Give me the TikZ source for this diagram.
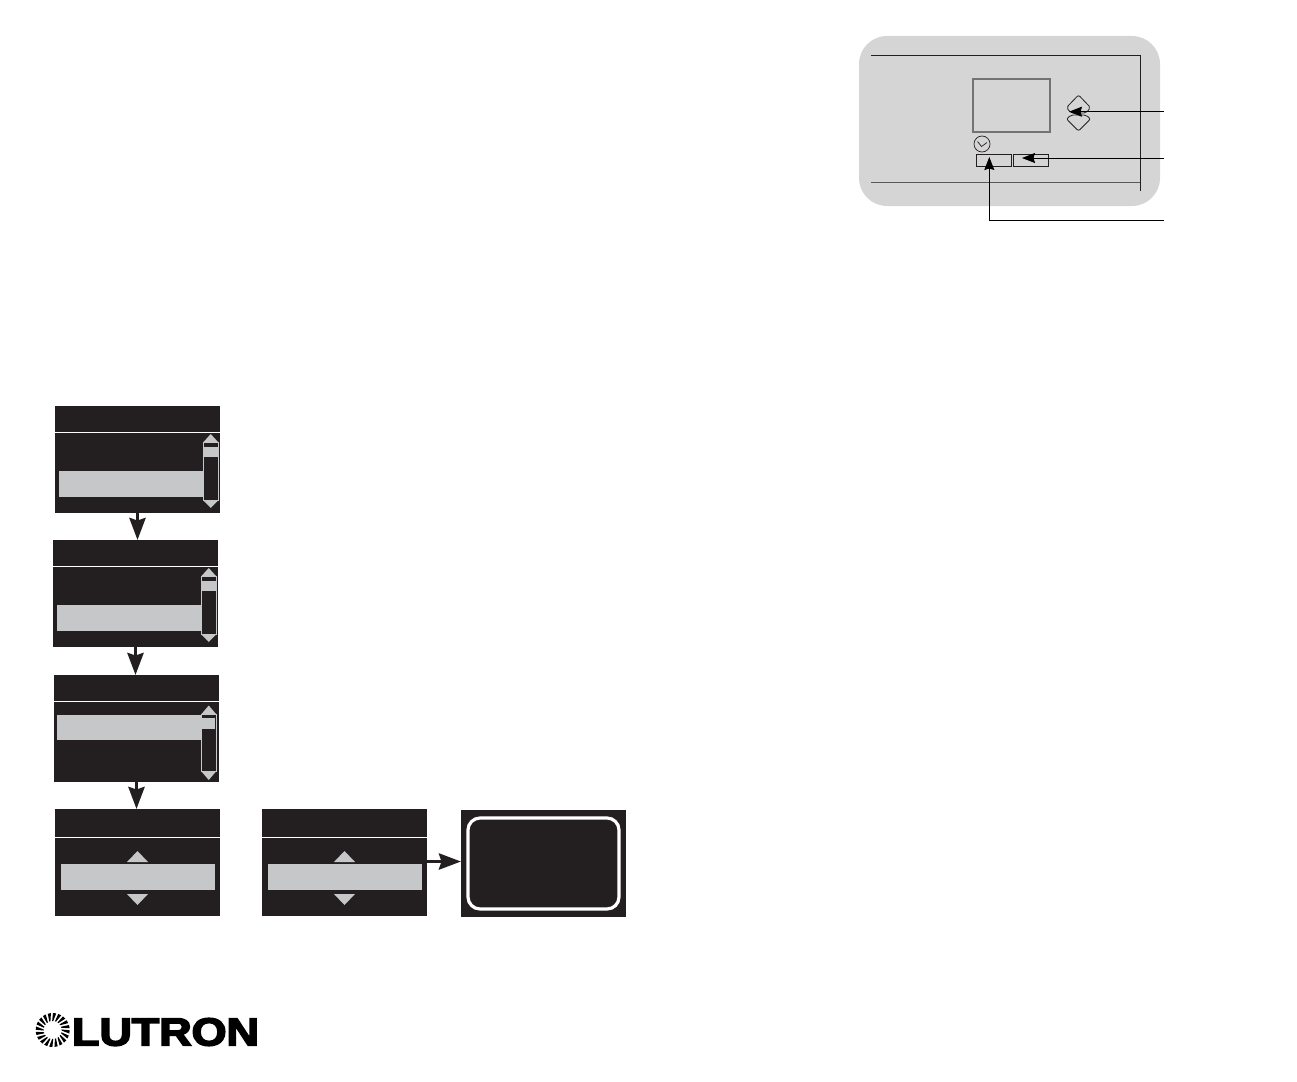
\documentclass[tikz,border=0pt]{standalone}
\usepackage{fontspec}
\setmainfont{Liberation Sans}
\newfontfamily\brandfont[BoldFeatures={FakeBold=4}]{Liberation Sans}
\usetikzlibrary{arrows.meta}
\definecolor{screenink}{HTML}{231F20}
\definecolor{barfill}{HTML}{C6C7C8}
\definecolor{devicefill}{HTML}{D5D5D5}
\tikzset{
  panel/.style={fill=screenink,draw=none,minimum width=165pt,minimum height=107pt,inner sep=0pt,outer sep=0pt},
  rule/.style={white,line width=1pt},
  hilite/.style={fill=barfill,draw=none},
  flow/.style={screenink,line width=3.8pt,-{Stealth[length=22pt,width=16pt,inset=2.5pt]}},
  leader/.style={black,line width=0.9pt,-{Stealth[length=13pt,width=10pt,inset=1.5pt]}},
  edge line/.style={screenink,line width=1pt},
}
\begin{document}
\begin{tikzpicture}[x=1pt,y=-1pt]
\useasboundingbox (0,0) rectangle (1297,1081);
% device
\fill[devicefill,rounded corners=28pt] (859,36) rectangle (1160,206);
\draw[edge line] (871,56) -- (1140,56) -- (1140,191);
\draw[edge line,draw=black!65] (871,182) -- (1140,182);
\node[draw=black!55,line width=1.3pt,minimum width=77pt,minimum height=53pt,inner sep=0pt] (lcd) at (1011.5,105.5) {};
\node[draw=screenink,circle,line width=0.7pt,minimum size=16pt,inner sep=0pt] (clock) at (982,144) {};
\draw[screenink,line width=0.7pt] (977.5,141.5) -- (981.5,146.5) -- (987,142.5);
\node[draw=screenink,line width=0.9pt,minimum width=35pt,minimum height=12pt,inner sep=0pt] (btnL) at (993.5,160) {};
\node[draw=screenink,line width=0.9pt,minimum width=35pt,minimum height=12pt,inner sep=0pt] (btnR) at (1030.5,160) {};
\draw[screenink,line width=0.8pt,rounded corners=2pt] (1078.5,95) -- (1090.5,107.5) -- (1086,113) -- (1071,113) -- (1066.5,107.5) -- cycle;
\draw[screenink,line width=0.8pt,rounded corners=2pt] (1078.5,131) -- (1090.5,119) -- (1086,115) -- (1071,115) -- (1066.5,119) -- cycle;
\coordinate (tagA) at (1164,111.7);
\coordinate (tagB) at (1164,158);
\coordinate (tagC) at (1164,220);
\coordinate (ptrA) at (1069,111.7);
\coordinate (ptrB) at (1022,158);
\coordinate (ptrC) at (989.3,157);
\draw[leader] (tagA) -- (ptrA);
\draw[leader] (tagB) -- (ptrB);
\draw[leader] (tagC) -| (ptrC);
% menu screens
\node[panel] (pnlA) at (137.5,459) {};
\node[panel] (pnlB) at (135.5,593.5) {};
\node[panel] (pnlC) at (136.5,728.5) {};
\node[panel] (pnlD) at (137.5,862.5) {};
\node[panel] (pnlE) at (344.5,862.5) {};
\node[panel] (pnlF) at (543.5,863.5) {};
\foreach \px/\py in {55/406,53/540} {
  \begin{scope}[shift={(\px,\py)}]
  \draw[rule] (0,26.5) -- (165,26.5);
  \fill[hilite] (4,65) rectangle (148,91);
  \draw[barfill,line width=0.8pt] (148.5,36) rectangle (163,94.5);
  \fill[hilite] (149,41) rectangle (162.5,51);
  \fill[hilite] (148.5,36) -- (155.75,28) -- (163,36) -- cycle;
  \fill[hilite] (148.5,94.5) -- (155.75,102) -- (163,94.5) -- cycle;
  \end{scope}
}
\draw[rule] (54,701) -- (219,701);
\fill[hilite] (57,715) rectangle (201,740);
\draw[barfill,line width=0.8pt] (201.5,714) rectangle (216,771.5);
\fill[hilite] (201.5,716) rectangle (215,729);
\fill[screenink] (202,716) rectangle (215,718);
\fill[hilite] (201.5,714) -- (208.75,705.5) -- (216,714) -- cycle;
\fill[hilite] (201.5,771.5) -- (208.75,780) -- (216,771.5) -- cycle;
\foreach \px in {55,262} {
  \begin{scope}[shift={(\px,809)}]
  \draw[rule] (0,28) -- (165,28);
  \fill[hilite] (6,55) rectangle (160,81);
  \fill[hilite] (72,53) -- (82.5,42) -- (93,53) -- cycle;
  \fill[hilite] (72,85) -- (82.5,96) -- (93,85) -- cycle;
  \end{scope}
}
\draw[white,line width=3.2pt,rounded corners=12pt] (468,818) rectangle (619,909);
\draw[flow] (pnlA.south) -- (pnlA.south |- pnlB.north);
\draw[flow] (pnlB.south) -- (pnlB.south |- pnlC.north);
\draw[flow] (pnlC.south) -- (pnlC.south |- pnlD.north);
\draw[flow] (pnlE.east |- 0,861.5) -- (pnlF.west |- 0,861.5);
% logo
\foreach \a in {0,18,...,342} {
  \fill[black,shift={(52.7,1030)}] (\a-3.5:9) -- (\a+3.5:9) -- (\a+12:17) -- (\a+1:17) -- cycle;
}
\node[font=\brandfont\bfseries,xscale=1.15,inner sep=0pt,text=black] (brand) at (165.5,1032) {\fontsize{39}{40}\selectfont LUTRON};
\end{tikzpicture}
\end{document}
